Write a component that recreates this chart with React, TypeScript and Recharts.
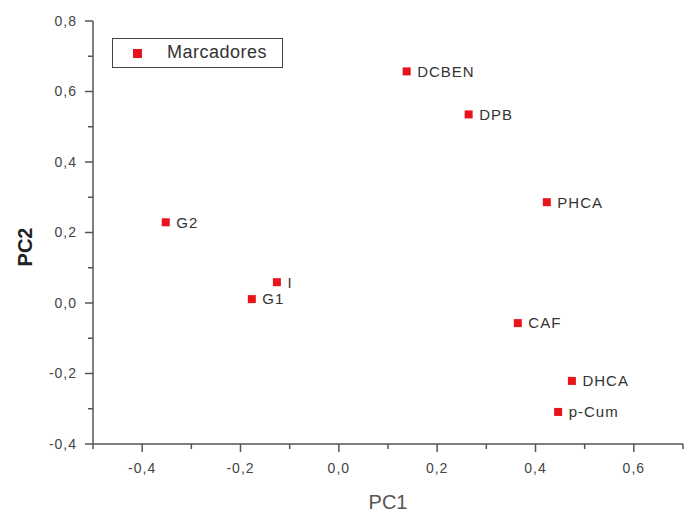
import React from 'react';
import { ScatterChart, Scatter, XAxis, YAxis, Legend, LabelList } from 'recharts';

const markers = ['DCBEN', 'DPB', 'PHCA', 'G2', 'I', 'G1', 'CAF', 'DHCA', 'p-Cum'];
const pc1 = [0.138, 0.264, 0.423, -0.352, -0.126, -0.177, 0.364, 0.474, 0.446];
const pc2 = [0.657, 0.535, 0.286, 0.229, 0.059, 0.011, -0.057, -0.221, -0.309];

const xTicks = [-0.5, -0.4, -0.3, -0.2, -0.1, 0, 0.1, 0.2, 0.3, 0.4, 0.5, 0.6, 0.7];
const yTicks = [-0.4, -0.3, -0.2, -0.1, 0, 0.1, 0.2, 0.3, 0.4, 0.5, 0.6, 0.7, 0.8];

const data = markers.map((name, i) => ({ name, x: pc1[i], y: pc2[i] }));

const RED = '#e8141c';
const AXIS = '#555';
const TEXT = '#444';

const isMajor = (v: number) => Math.round(v * 10) % 2 === 0;
const fmt = (v: number) => v.toFixed(1).replace('.', ',');

const makeXTick = (top: boolean) => (props: any) => {
  const { x, y, payload } = props;
  const v = payload.value;
  const major = isMajor(v);
  const len = major ? 8 : 5;
  return (
    <g>
      <line x1={x} x2={x} y1={y} y2={y + len} stroke={AXIS} strokeWidth={1.5} />
      {!top && major && (
        <text x={x} y={y + 29} textAnchor="middle" fontSize={14} letterSpacing={1} fill={TEXT}>
          {fmt(v)}
        </text>
      )}
    </g>
  );
};

const makeYTick = (right: boolean) => (props: any) => {
  const { x, y, payload } = props;
  const v = payload.value;
  const major = isMajor(v);
  const len = major ? 8 : 5;
  return (
    <g>
      <line x1={x} x2={x - len} y1={y} y2={y} stroke={AXIS} strokeWidth={1.5} />
      {!right && major && (
        <text x={x - 16} y={y} dy="0.35em" textAnchor="end" fontSize={14} letterSpacing={1} fill={TEXT}>
          {fmt(v)}
        </text>
      )}
    </g>
  );
};

const LegendBox = () => (
  <div
    style={{
      width: 171,
      height: 30,
      boxSizing: 'border-box',
      border: '1.5px solid #444',
      background: '#fff',
      position: 'relative',
      fontSize: 18,
      letterSpacing: 0.5,
      color: '#333',
    }}
  >
    <div style={{ position: 'absolute', left: 20, top: 10, width: 9, height: 9, background: RED }} />
    <div style={{ position: 'absolute', left: 54, top: 3, lineHeight: '21px' }}>Marcadores</div>
  </div>
);

const PC2Label = () => {
  const cx = 25;
  const cy = 247;
  return (
    <text
      x={cx}
      y={cy}
      transform={`rotate(-90 ${cx} ${cy})`}
      textAnchor="middle"
      dy="0.35em"
      fontSize={20}
      fontWeight="bold"
      fill="#222"
    >
      PC2
    </text>
  );
};

export default function App() {
  return (
    <div style={{ position: 'absolute', left: 0, top: 0, fontFamily: '"Liberation Sans", Arial, sans-serif', background: '#fff' }}>
      <ScatterChart width={691} height={513} margin={{ top: 21, right: 8, left: 0, bottom: 0 }}>
        <XAxis
          type="number"
          dataKey="x"
          domain={[-0.5, 0.7]}
          ticks={xTicks}
          interval={0}
          height={69}
          tickSize={0}
          tickMargin={0}
          tickLine={false}
          tick={makeXTick(false)}
          axisLine={{ stroke: AXIS, strokeWidth: 1.5 }}
          label={{ value: 'PC1', position: 'insideBottom', offset: 4, fontSize: 20, fill: '#555' }}
        />
        <XAxis
          xAxisId="top"
          orientation="top"
          type="number"
          domain={[-0.5, 0.7]}
          ticks={xTicks}
          interval={0}
          height={0}
          tickSize={0}
          tickMargin={0}
          tickLine={false}
          tick={makeXTick(true)}
          axisLine={{ stroke: AXIS, strokeWidth: 1.5 }}
        />
        <YAxis
          type="number"
          dataKey="y"
          domain={[-0.4, 0.8]}
          ticks={yTicks}
          interval={0}
          width={93}
          tickSize={0}
          tickMargin={0}
          tickLine={false}
          tick={makeYTick(false)}
          axisLine={{ stroke: AXIS, strokeWidth: 1.5 }}
          label={<PC2Label />}
        />
        <YAxis
          yAxisId="right"
          orientation="right"
          type="number"
          domain={[-0.4, 0.8]}
          ticks={yTicks}
          interval={0}
          width={0}
          tickSize={0}
          tickMargin={0}
          tickLine={false}
          tick={makeYTick(true)}
          axisLine={{ stroke: AXIS, strokeWidth: 1.5 }}
        />
        <Legend
          layout="horizontal"
          verticalAlign="middle"
          content={<LegendBox />}
          wrapperStyle={{ position: 'absolute', left: 112, top: 38, width: 171, height: 30 }}
        />
        <Scatter
          name="Marcadores"
          data={data}
          fill={RED}
          isAnimationActive={false}
          shape={(p: any) => <rect x={p.cx - 4} y={p.cy - 4} width={8} height={8} fill={RED} />}
        >
          <LabelList dataKey="name" position="right" offset={6} fontSize={15} letterSpacing={1} fill="#333" />
        </Scatter>
      </ScatterChart>
    </div>
  );
}
